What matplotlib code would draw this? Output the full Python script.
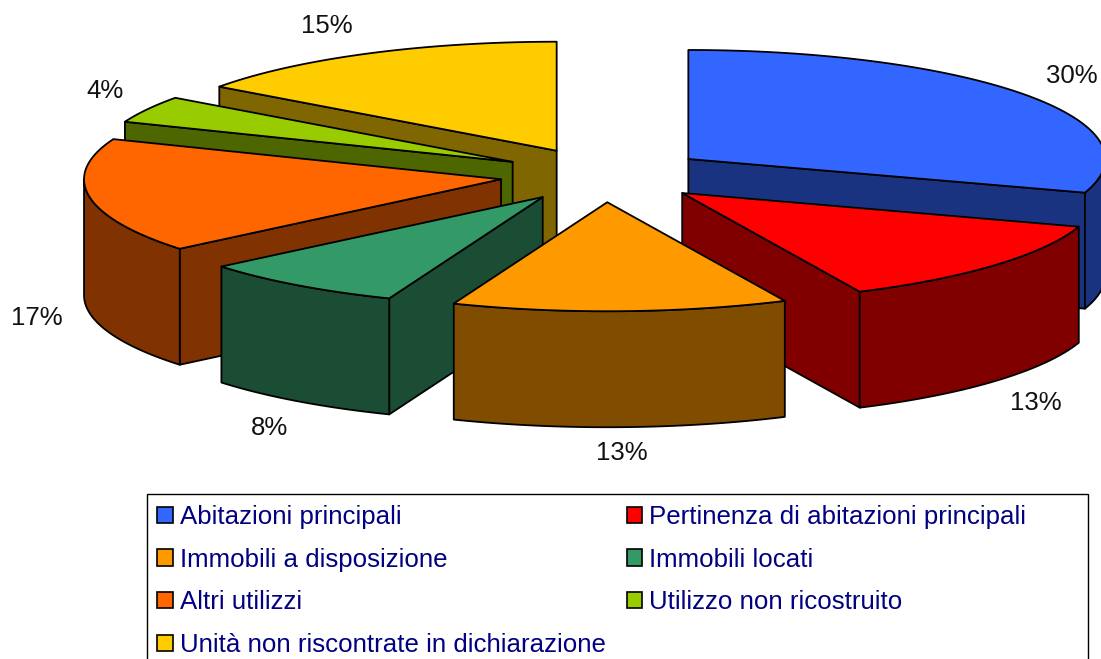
import numpy as np
import matplotlib.pyplot as plt
from matplotlib.patches import Patch, Polygon, Rectangle

plt.rcParams['font.family'] = ['Liberation Sans', 'DejaVu Sans']

# 1. Data
categories = ['Abitazioni principali', 'Pertinenza di abitazioni principali',
              'Immobili a disposizione', 'Immobili locati', 'Altri utilizzi',
              'Utilizzo non ricostruito', 'Unità non riscontrate in dichiarazione']
values = [30, 13, 13, 8, 17, 4, 15]
top_colors = ['#3366FF', '#FF0000', '#FF9900', '#339966', '#FF6600', '#99CC00', '#FFCC00']
side_colors = ['#1A3380', '#800000', '#804C00', '#1A4D33', '#803300', '#4D6600', '#806600']

# 2. Projection of the tilted pie, in image pixels
CX, CY = 604, 175
RX, RY = 417, 109
DEPTH = 116
EXPLODE = 0.25
LW = 1.3
EDGE = '#000000'

# back slices first, front slice last
draw_order = [6, 5, 4, 3, 0, 1, 2]

# label centres in pixels, same order as values
label_pos = [(1072, 76), (1036, 403), (622, 453), (269, 428), (37, 318), (105, 91), (327, 26)]

fig = plt.figure(figsize=(11.01, 6.59), dpi=100)
ax = fig.add_axes([0, 0, 1, 1])
ax.set_xlim(0, 1101)
ax.set_ylim(659, 0)
ax.axis('off')

edges = np.cumsum([0] + values) / sum(values) * 360.0


def rim(apex, a0, a1):
    t = np.radians(np.linspace(a0, a1, 80))
    return np.column_stack([apex[0] + RX * np.sin(t), apex[1] - RY * np.cos(t)])


for i in draw_order:
    a0, a1 = edges[i], edges[i + 1]
    mid = np.radians((a0 + a1) / 2)
    apex = np.array([CX + EXPLODE * RX * np.sin(mid), CY - EXPLODE * RY * np.cos(mid)])
    down = np.array([0, DEPTH])
    outer = rim(apex, a0, a1)

    # cut faces, only those turned to the viewer
    faces = []
    if a0 > 180:
        faces.append(outer[0])
    if a1 < 180:
        faces.append(outer[-1])
    for end in faces:
        wall = [apex, end, end + down, apex + down]
        ax.add_patch(Polygon(wall, closed=True, fc=side_colors[i], ec=EDGE, lw=LW, joinstyle='round'))

    # curved outside face, same idea
    lo, hi = max(a0, 90), min(a1, 270)
    if hi > lo:
        arc = rim(apex, lo, hi)
        wall = np.vstack([arc, (arc + down)[::-1]])
        ax.add_patch(Polygon(wall, closed=True, fc=side_colors[i], ec=EDGE, lw=LW, joinstyle='round'))

    # top face
    top = np.vstack([apex, outer])
    ax.add_patch(Polygon(top, closed=True, fc=top_colors[i], ec=EDGE, lw=LW, joinstyle='round'))

for v, (x, y) in zip(values, label_pos):
    ax.text(x, y, f'{v}%', fontsize=18.5, color='#111111', ha='center', va='center')

# 3. Legend, filled column by column like the original; box runs off the bottom
ax.add_patch(Rectangle((147, 494), 941, 200, fc='white', ec='black', lw=1.0))
handles = [Patch(fc=c, ec='black', lw=1.2, label=n) for c, n in zip(top_colors, categories)]
order = [0, 2, 4, 6, 1, 3, 5]
leg = ax.legend([handles[k] for k in order], [categories[k] for k in order],
                ncol=2, loc='upper left', bbox_to_anchor=(146, 494),
                bbox_transform=ax.transData, borderaxespad=0, fontsize=18.6,
                labelcolor='#000080', frameon=False,
                handlelength=0.6, handleheight=0.6, handletextpad=0.27,
                labelspacing=0.72, columnspacing=0.82, borderpad=0.43)

fig.savefig('out.png', dpi=100)
